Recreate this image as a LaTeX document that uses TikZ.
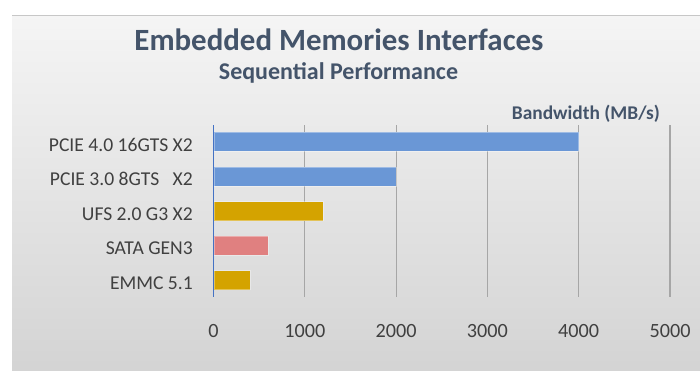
\documentclass[tikz,border=0pt]{standalone}
\usepackage{fontspec}
\setmainfont{Carlito}
\definecolor{titlecol}{HTML}{44546A}
\definecolor{labcol}{HTML}{404040}
\definecolor{barblue}{HTML}{6A97D6}
\definecolor{bargold}{HTML}{D4A300}
\definecolor{barpink}{HTML}{E08080}
\definecolor{axisblue}{HTML}{4472C4}
\definecolor{gridcol}{HTML}{A6A6A6}
\begin{document}
\begin{tikzpicture}[x=1pt,y=-1pt,
  titletext/.style={font=\bfseries\fontsize{30.9}{33}\selectfont,text=titlecol,inner sep=0pt},
  subtext/.style={font=\bfseries\fontsize{24}{26}\selectfont,text=titlecol,inner sep=0pt},
  unittext/.style={font=\bfseries\fontsize{19.4}{21}\selectfont,text=titlecol,inner sep=0pt},
  cattext/.style={font=\fontsize{19.6}{21}\selectfont,text=labcol,inner sep=0pt,anchor=base east},
  ticktext/.style={font=\fontsize{20.2}{22}\selectfont,text=labcol,inner sep=0pt,anchor=base},
  gridline/.style={draw=gridcol,line width=1.1pt},
  barbox/.style={draw=white,draw opacity=0.35,line width=0.8pt}]
\useasboundingbox (0,0) rectangle (700,370);
\fill[white] (0,0) rectangle (700,370);
\shade[top color=black!4,bottom color=black!17] (12,15) rectangle (700,370);
\draw[black!22,line width=1pt] (12,15) -- (700,15);
% gridlines
\foreach \v in {1,2,3,4,5}{
  \draw[gridline] ({213.5+\v*91.3},125) -- ({213.5+\v*91.3},297);
}
% bars
\path[barbox,fill=barblue] (214,132.3) rectangle ({213.5+4000*0.0913},151.3);
\path[barbox,fill=barblue] (214,167.2) rectangle ({213.5+2000*0.0913},186.2);
\path[barbox,fill=bargold] (214,201.7) rectangle ({213.5+1200*0.0913},220.7);
\path[barbox,fill=barpink] (214,236) rectangle ({213.5+600*0.0913},255);
\path[barbox,fill=bargold] (214,270.8) rectangle ({213.5+400*0.0913},289.8);
% axis
\coordinate (axtop) at (213.5,125);
\coordinate (axbot) at (213.5,297);
\draw[axisblue,line width=1.2pt] (axtop) -- (axbot);
% titles
\node[titletext] (title) at (339,40) {Embedded Memories Interfaces};
\node[subtext] (subtitle) at (338.5,73) {Sequential Performance};
\node[unittext,anchor=base east] (unit) at (660,119) {Bandwidth (MB/s)};
% category labels
\node[cattext] (c1) at (193,151) {PCIE 4.0 16GTS X2};
\node[cattext] (c2) at (193,185.5) {PCIE 3.0 8GTS\ \ \ X2};
\node[cattext] (c3) at (193,220) {UFS 2.0 G3 X2};
\node[cattext] (c4) at (193,254.5) {SATA GEN3};
\node[cattext] (c5) at (193,289) {EMMC 5.1};
% tick labels
\foreach \v/\t in {0/0,1/1000,2/2000,3/3000,4/4000,5/5000}{
  \node[ticktext] (t\v) at ({213.5+\v*91.3},337.5) {\t};
}
\end{tikzpicture}
\end{document}
